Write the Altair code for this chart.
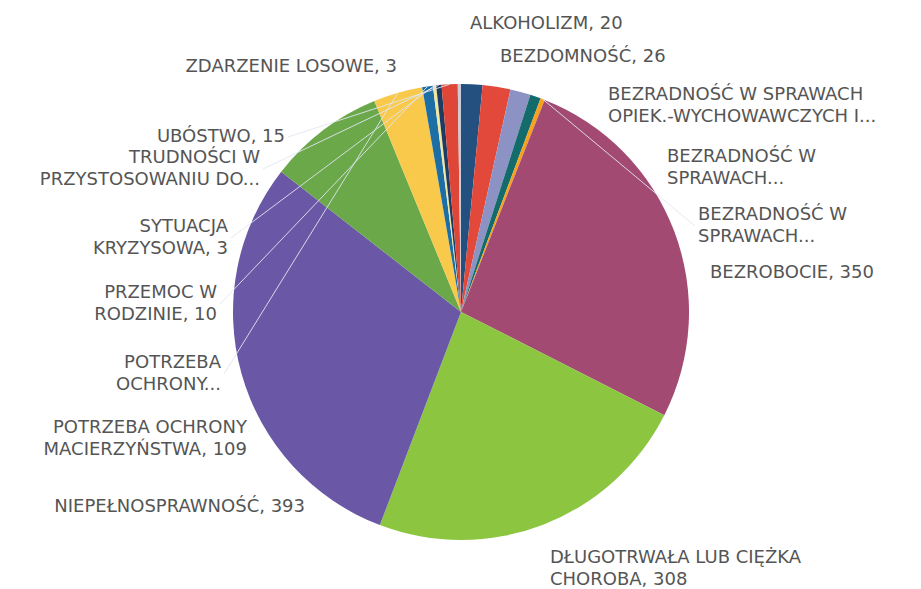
import altair as alt
import pandas as pd

# ---- data ----
categories = [
    "ALKOHOLIZM",
    "BEZDOMNOŚĆ",
    "BEZRADNOŚĆ W SPRAWACH\nOPIEK.-WYCHOWAWCZYCH I...",
    "BEZRADNOŚĆ W\nSPRAWACH...",
    "BEZRADNOŚĆ W\nSPRAWACH...",
    "BEZROBOCIE",
    "DŁUGOTRWAŁA LUB CIĘŻKA\nCHOROBA",
    "NIEPEŁNOSPRAWNOŚĆ",
    "POTRZEBA OCHRONY\nMACIERZYŃSTWA",
    "POTRZEBA\nOCHRONY...",
    "PRZEMOC W\nRODZINIE",
    "SYTUACJA\nKRYZYSOWA",
    "TRUDNOŚCI W\nPRZYSTOSOWANIU DO...",
    "UBÓSTWO",
    "ZDARZENIE LOSOWE",
]
values = [20, 26, 19, 10, 4, 350, 308, 393, 109, 46, 10, 3, 5, 15, 3]
show_value = [True, True, False, False, False, True, True, True, True, False,
              True, True, False, True, True]
colors = [
    "#23507f", "#e2493a", "#8c93c4", "#146b6b", "#f6a21e", "#a34a73",
    "#8cc640", "#6a58a6", "#6aa84a", "#f8c94a", "#1e6ea6", "#efe6a0",
    "#1d3b63", "#de4638", "#c9cbd6",
]

# ---- label layout (page pixel anchors, first-line baseline) ----
label_x = [470, 500, 608, 667, 698, 710, 550, 305, 247, 221, 217, 228, 260, 285, 397]
label_y = [29, 62, 100, 162, 220, 278, 563, 512, 433, 368, 298, 232, 163, 142, 72]
label_side = ["left", "left", "left", "left", "left", "left", "left", "right",
              "right", "right", "right", "right", "right", "right", "right"]
leader = [False, False, False, False, True, False, False, False,
          False, True, True, True, True, True, False]

M = 8  # page margin
idx = list(range(len(values)))
labels = [c + (f", {v}" if s else "") for c, v, s in zip(categories, values, show_value)]

df = pd.DataFrame({"idx": idx, "liczba": values})
lab = pd.DataFrame({
    "idx": idx,
    "liczba": values,
    "label": labels,
    "nlines": [t.count("\n") + 1 for t in labels],
    "lx": [x - M for x in label_x],
    "ly": [y - M for y in label_y],
    "side": label_side,
    "leader": leader,
})

W, H = 905, 581
CX, CY, R = 461 - M, 312 - M, 228

pie = alt.Chart(df).mark_arc(outerRadius=R).encode(
    theta=alt.Theta("liczba:Q", stack=True),
    color=alt.Color("idx:O", scale=alt.Scale(domain=idx, range=colors), legend=None),
    order=alt.Order("idx:Q"),
    x=alt.value(CX),
    y=alt.value(CY),
)

# leader lines: from label to the outer middle of its slice (computed from the values)
leaders = alt.Chart(lab).transform_joinaggregate(
    total="sum(liczba)"
).transform_window(
    cum="sum(liczba)", sort=[alt.SortField("idx")], frame=[None, 0]
).transform_filter(
    alt.datum.leader
).transform_calculate(
    a="2*PI*(datum.cum - datum.liczba/2)/datum.total",
    ex=f"{CX} + {R}*sin(datum.a)",
    ey=f"{CY} - {R}*cos(datum.a)",
    sx="datum.side == 'right' ? datum.lx + 3 : datum.lx - 3",
    sy="datum.ly - 5 + 11*(datum.nlines - 1)",
).mark_rule(color="#e1e6f0", strokeWidth=1, opacity=0.9).encode(
    x=alt.X("sx:Q", scale=None, axis=None),
    y=alt.Y("sy:Q", scale=None, axis=None),
    x2="ex:Q",
    y2="ey:Q",
)

def text_layer(side):
    return alt.Chart(lab).transform_filter(
        alt.datum.side == side
    ).mark_text(
        align=side, baseline="alphabetic", lineBreak="\n", lineHeight=22,
        font="DejaVu Sans", fontSize=18, color="#555555",
    ).encode(
        x=alt.X("lx:Q", scale=None, axis=None),
        y=alt.Y("ly:Q", scale=None, axis=None),
        text="label:N",
    )

chart = alt.layer(pie, leaders, text_layer("left"), text_layer("right")).properties(
    width=W, height=H, padding=0, autosize="none", background="white"
).configure_view(stroke=None)

chart.save("out.html", embed_options={"renderer": "svg", "actions": False})
